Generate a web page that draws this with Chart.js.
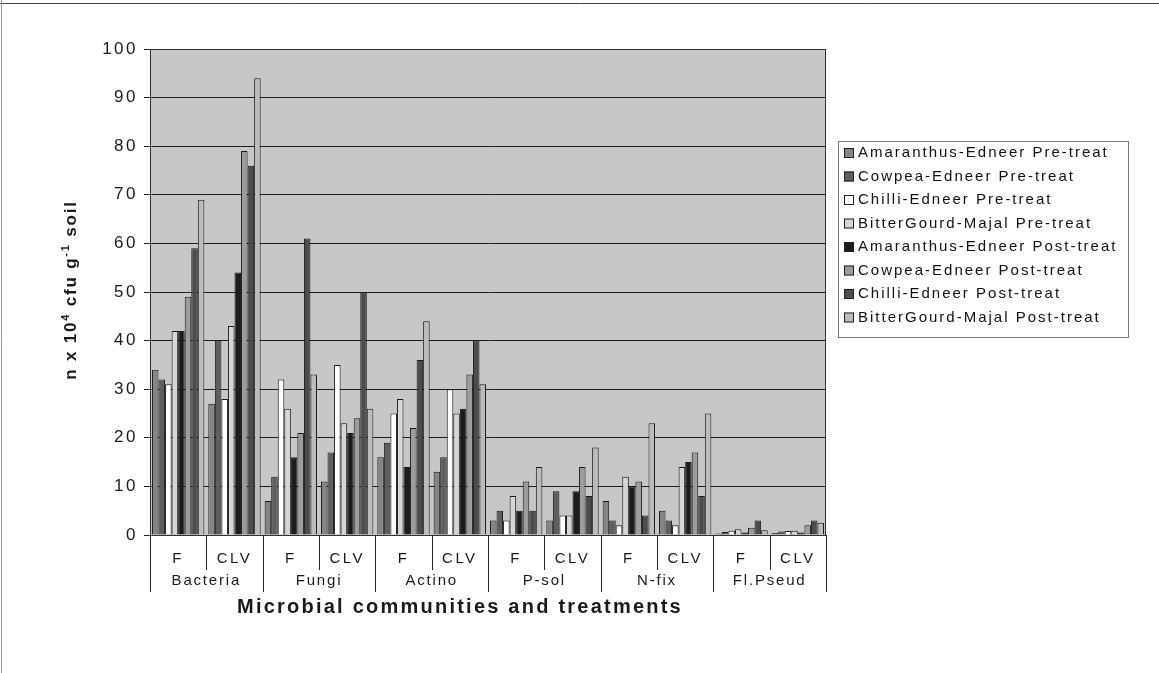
<!DOCTYPE html>
<html><head><meta charset="utf-8">
<script src="https://cdn.jsdelivr.net/npm/chart.js@4.4.1/dist/chart.umd.min.js"></script>
<style>html,body{margin:0;padding:0;background:#fff;}canvas{display:block;}</style>
</head><body>
<canvas id="c" width="1159" height="673"></canvas>
<script>
const categories = ['F','CLV','F','CLV','F','CLV','F','CLV','F','CLV','F','CLV'];
const groups = ['Bacteria','Fungi','Actino','P-sol','N-fix','Fl.Pseud'];
const seriesNames = ['Amaranthus-Edneer Pre-treat','Cowpea-Edneer Pre-treat','Chilli-Edneer Pre-treat','BitterGourd-Majal Pre-treat','Amaranthus-Edneer Post-treat','Cowpea-Edneer Post-treat','Chilli-Edneer Post-treat','BitterGourd-Majal Post-treat'];
const amaranthusPre  = [34,27, 7,11, 16,13, 3,3, 7,5, 0.3,0.4];
const cowpeaPre      = [32,40, 12,17, 19,16, 5,9, 3,3, 0.6,0.7];
const chilliPre      = [31,28, 32,35, 25,30, 3,4, 2,2, 0.9,0.8];
const bitterPre      = [42,43, 26,23, 28,25, 8,4, 12,14, 1.2,0.9];
const amaranthusPost = [42,54, 16,21, 14,26, 5,9, 10,15, 0.5,0.5];
const cowpeaPost     = [49,79, 21,24, 22,33, 11,14, 11,17, 1.5,2];
const chilliPost     = [59,76, 61,50, 36,40, 5,8, 4,8, 3,3];
const bitterPost     = [69,94, 33,26, 44,31, 14,18, 23,25, 1,2.5];
const yTicks = [0,10,20,30,40,50,60,70,80,90,100];
const seriesValues = [amaranthusPre,cowpeaPre,chilliPre,bitterPre,amaranthusPost,cowpeaPost,chilliPost,bitterPost];
const seriesColors = ['#858585','#5e5e5e','#ffffff','#d6d6d6','#1c1c1c','#9c9c9c','#4c4c4c','#bcbcbc'];

const FONT = '"Liberation Sans", Arial, sans-serif';

function spacedText(ctx, text, x, y, targetW) {
  ctx.letterSpacing = '0px';
  const w = ctx.measureText(text).width;
  const sp = Math.max(0, (targetW - w) / text.length);
  ctx.letterSpacing = sp.toFixed(2) + 'px';
  ctx.fillText(text, x, y);
  ctx.letterSpacing = '0px';
}

const decor = {
  id: 'decor',
  beforeDraw(chart) {
    const {ctx, chartArea: a} = chart;
    ctx.save();
    ctx.fillStyle = '#ffffff';
    ctx.fillRect(0, 0, chart.width, chart.height);
    ctx.fillStyle = '#c7c7c7';
    ctx.fillRect(a.left, a.top, a.right - a.left, a.bottom - a.top);
    ctx.restore();
    ctx.letterSpacing = '2.5px';
  },
  afterDraw(chart) {
    const {ctx, chartArea: a} = chart;
    const xs = chart.scales.x;
    const step = xs.getPixelForValue(1) - xs.getPixelForValue(0);
    ctx.save();
    ctx.letterSpacing = '0px';
    ctx.strokeStyle = '#333';
    ctx.lineWidth = 1;
    ctx.strokeRect(a.left + 0.5, a.top + 0.5, a.right - a.left - 1, a.bottom - a.top);
    ctx.strokeStyle = '#222';
    for (let i = 0; i <= categories.length; i++) {
      const x = Math.round(xs.getPixelForValue(0) - step / 2 + i * step) + 0.5;
      const isGroup = i % 2 === 0;
      ctx.beginPath();
      ctx.moveTo(x, a.bottom);
      ctx.lineTo(x, isGroup ? a.bottom + 57 : a.bottom + 35);
      ctx.stroke();
    }
    ctx.fillStyle = '#1a1a1a';
    ctx.font = '15px ' + FONT;
    ctx.textAlign = 'center';
    ctx.textBaseline = 'middle';
    groups.forEach((g, i) => {
      const x = xs.getPixelForValue(2 * i) + step / 2;
      ctx.letterSpacing = '1.8px';
      ctx.fillText(g, x, a.bottom + 46);
    });
    ctx.font = 'bold 20px ' + FONT;
    spacedText(ctx, 'Microbial communities and treatments', 460, 607, 446);
    ctx.save();
    ctx.translate(71, 290);
    ctx.rotate(-Math.PI / 2);
    const parts = [['n x 10', false], ['4', true], [' cfu g', false], ['-1', true], [' soil', false]];
    const big = 'bold 17px ' + FONT, small = 'bold 11px ' + FONT;
    let total = 0;
    const sp = 1.8;
    parts.forEach(p => { ctx.font = p[1] ? small : big; ctx.letterSpacing = sp + 'px'; total += ctx.measureText(p[0]).width; });
    let cx = -total / 2;
    ctx.textAlign = 'left';
    ctx.textBaseline = 'middle';
    ctx.letterSpacing = sp + 'px';
    parts.forEach(p => {
      ctx.font = p[1] ? small : big;
      ctx.fillText(p[0], cx, p[1] ? -5 : 0);
      cx += ctx.measureText(p[0]).width;
    });
    ctx.restore();
    const lx = 838, ly = 141, lw = 290, rowH = 23.5;
    const lh = rowH * seriesNames.length + 8;
    ctx.fillStyle = '#ffffff';
    ctx.fillRect(lx, ly, lw, lh);
    ctx.strokeStyle = '#777';
    ctx.strokeRect(lx + 0.5, ly + 0.5, lw, lh);
    ctx.font = '15px ' + FONT;
    ctx.textAlign = 'left';
    ctx.textBaseline = 'middle';
    chart.data.datasets.forEach((ds, i) => {
      const y = ly + 12 + i * rowH;
      ctx.fillStyle = ds.backgroundColor;
      ctx.fillRect(lx + 6, y - 5, 10, 10);
      ctx.strokeStyle = '#222';
      ctx.strokeRect(lx + 6.5, y - 4.5, 9, 9);
      ctx.fillStyle = '#111';
      ctx.letterSpacing = '2px';
      ctx.fillText(ds.label, lx + 20, y);
    });
    ctx.strokeStyle = '#444';
    ctx.beginPath(); ctx.moveTo(0, 3.5); ctx.lineTo(1159, 3.5); ctx.stroke();
    ctx.strokeStyle = '#999';
    ctx.beginPath(); ctx.moveTo(1.5, 0); ctx.lineTo(1.5, 673); ctx.stroke();
    ctx.restore();
    ctx.letterSpacing = '0px';
  }
};

new Chart(document.getElementById('c'), {
  type: 'bar',
  data: {
    labels: categories,
    datasets: seriesNames.map((n, i) => ({
      label: n,
      data: seriesValues[i],
      backgroundColor: seriesColors[i],
      borderColor: '#1a1a1a',
      borderWidth: 1,
      barPercentage: 1.0,
      categoryPercentage: 0.93
    }))
  },
  options: {
    responsive: false,
    animation: false,
    devicePixelRatio: 1,
    layout: { padding: { top: 49, right: 333, left: 0, bottom: 0 } },
    plugins: { legend: { display: false }, tooltip: { enabled: false } },
    scales: {
      x: {
        grid: { display: false },
        border: { display: false },
        ticks: { color: '#1a1a1a', font: { size: 15, family: FONT }, padding: 7, maxRotation: 0, autoSkip: false },
        afterFit(s) { s.height = 138; }
      },
      y: {
        min: 0, max: 100,
        afterBuildTicks(s) { s.ticks = yTicks.map(v => ({ value: v })); },
        grid: { color: '#1e1e1e', lineWidth: 1, tickLength: 6 },
        border: { display: true, color: '#222' },
        ticks: { color: '#1a1a1a', font: { size: 17, family: FONT }, padding: 6 },
        afterFit(s) { s.width = 150; }
      }
    }
  },
  plugins: [decor]
});
</script>
</body></html>
